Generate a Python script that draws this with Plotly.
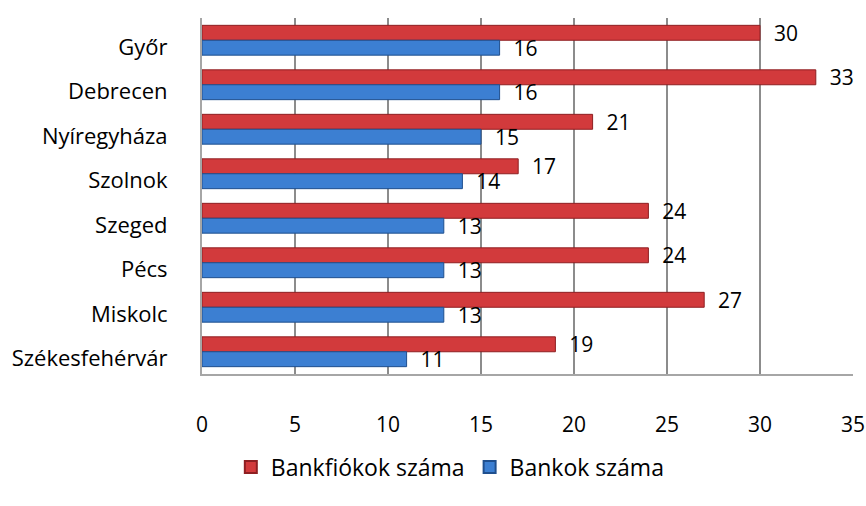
import plotly.graph_objects as go

cities = ["Győr", "Debrecen", "Nyíregyháza", "Szolnok", "Szeged", "Pécs", "Miskolc", "Székesfehérvár"]
bankfiokok = [30, 33, 21, 17, 24, 24, 27, 19]
bankok = [16, 16, 15, 14, 13, 13, 13, 11]
x_ticks = [0, 5, 10, 15, 20, 25, 30, 35]

FONT = "Open Sans, Lato, sans-serif"
FS = 21

fig = go.Figure()
fig.add_trace(go.Bar(
    y=cities, x=bankfiokok, orientation="h", name="Bankfiókok száma",
    marker=dict(color="#D23A3C", line=dict(color="#8E1F22", width=1)),
    text=["  " + str(v) for v in bankfiokok], textposition="outside", cliponaxis=False,
    constraintext="none",
    textfont=dict(size=FS, color="#000000", family=FONT),
))
fig.add_trace(go.Bar(
    y=cities, x=bankok, orientation="h", name="Bankok száma",
    marker=dict(color="#3C7FD2", line=dict(color="#1F4F8E", width=1)),
    text=["  " + str(v) for v in bankok], textposition="outside", cliponaxis=False,
    constraintext="none",
    textfont=dict(size=FS, color="#000000", family=FONT),
))

fig.update_layout(
    width=866, height=506,
    margin=dict(l=202, r=13, t=18, b=132, autoexpand=False),
    paper_bgcolor="white", plot_bgcolor="white",
    barmode="group", bargap=0.33, bargroupgap=0.0,
    font=dict(family=FONT, size=FS, color="#000000"),
    showlegend=True,
    legend=dict(orientation="h", x=0.52, xref="container", xanchor="center",
                y=0.077, yref="container", yanchor="middle",
                font=dict(size=23, family=FONT), itemsizing="constant",
                itemwidth=30, traceorder="normal"),
    xaxis=dict(range=[0, 35], tickvals=x_ticks, ticktext=[str(t) for t in x_ticks],
               showgrid=True, gridcolor="#8C8C8C", gridwidth=1.5,
               zeroline=False, showline=True, linecolor="#A6A6A6", linewidth=2,
               ticks="", ticklabelstandoff=31, automargin=False,
               tickfont=dict(size=FS, family=FONT)),
    yaxis=dict(autorange="reversed", showgrid=False, zeroline=False,
               showline=True, linecolor="#A6A6A6", linewidth=2, ticks="",
               ticklabelstandoff=28, ticklabelshift=-7, automargin=False,
               tickfont=dict(size=22, family=FONT)),
)

fig.write_html("out.html", config={"displayModeBar": False},
               post_script="document.body.style.margin='0';")
